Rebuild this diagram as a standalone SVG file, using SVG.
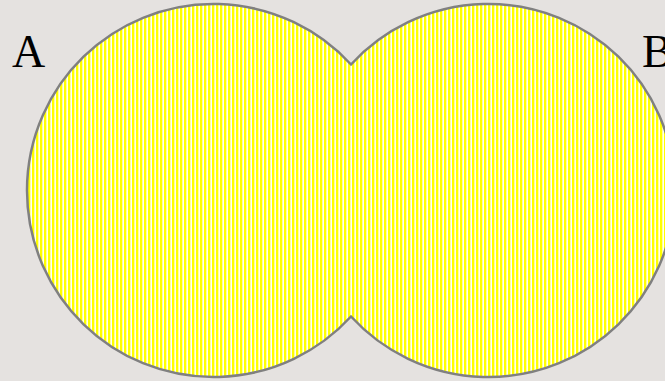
<svg xmlns="http://www.w3.org/2000/svg" width="665" height="381" viewBox="0 0 665 381">
  <style>
    .lbl { font-family: "Liberation Serif", "Times New Roman", serif; font-size: 46px; fill: #000; }
    .shape { fill: url(#stripes); stroke: #808080; stroke-width: 2.5; stroke-linejoin: miter; }
  </style>
  <defs>
    <pattern id="stripes" patternUnits="userSpaceOnUse" x="0" y="0" width="4" height="4">
      <rect x="0" y="0" width="4" height="4" fill="#ffff00"/>
      <rect x="2" y="0" width="1" height="4" fill="#ffffa0"/>
      <rect x="3" y="0" width="1" height="4" fill="#fffff2"/>
    </pattern>
  </defs>
  <rect x="0" y="0" width="665" height="381" fill="#e5e2e0"/>
  <g id="union">
    <path class="shape" d="M351,64.5 A186.5,186.5 0 1 0 351,316.5 A186.5,186.5 0 1 0 351,64.5 Z"/>
  </g>
  <g id="labelA"><text class="lbl" x="12" y="67">A</text></g>
  <g id="labelB"><text class="lbl" x="642" y="67">B</text></g>
</svg>
